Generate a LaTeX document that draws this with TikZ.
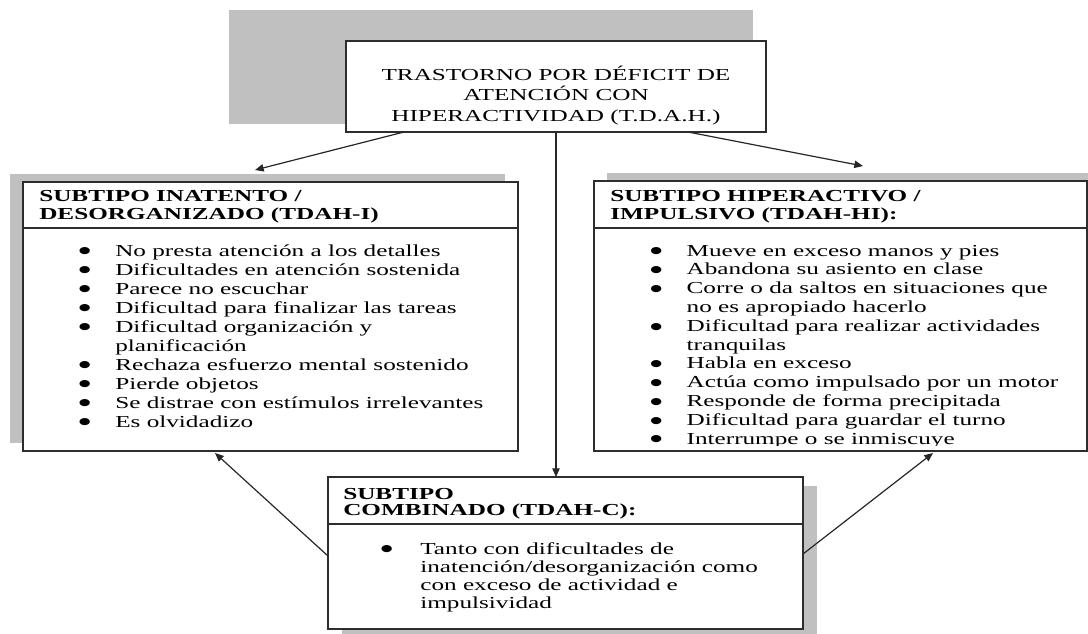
\documentclass[tikz,border=0pt]{standalone}
\usepackage{fontspec}
\setmainfont[FakeStretch=1.5]{Liberation Serif}
\newfontfamily\bulfont[FakeStretch=1.45]{DejaVu Sans}
\usetikzlibrary{arrows.meta,calc}
\definecolor{shadowgray}{RGB}{192,192,192}
\definecolor{edge}{RGB}{45,45,45}
\newcommand{\bigbul}{\raisebox{1.55pt}{\bulfont\fontsize{7pt}{8pt}\selectfont ●}}
\newcommand{\bitem}[1]{\makebox[27.3pt][l]{\bigbul}#1}
\newcommand{\bcont}[1]{\hspace*{27.3pt}#1}
\newcommand{\citem}[1]{\makebox[29.6pt][l]{\bigbul}#1}
\newcommand{\ccont}[1]{\hspace*{29.6pt}#1}
\begin{document}
\begin{tikzpicture}[x=0.75pt,y=-0.75pt,
  boxst/.style={draw=edge,line width=1.2pt,fill=white,inner sep=0pt,outer sep=0pt,anchor=north west},
  sepline/.style={draw=edge,line width=0.9pt},
  shadowbox/.style={fill=shadowgray},
  txt/.style={inner sep=0pt,anchor=base west},
  arr/.style={draw=black!85,line width=0.9pt,-{Triangle[length=6.5pt,width=5.5pt]}}]
\useasboundingbox (0,0) rectangle (1088,633);
\clip (0,0) rectangle (1088,633);
% shadows
\path[shadowbox] (229,10) rectangle (753,124);
\path[shadowbox] (10,174) rectangle (505,443);
\path[shadowbox] (607,173) rectangle (1100,443);
\path[shadowbox] (342,486) rectangle (817,640);
% boxes
\node[boxst,minimum width=315pt,minimum height=68.25pt] (top) at (346,41) {};
\node[boxst,minimum width=371.25pt,minimum height=201.75pt] (lbox) at (23,182) {};
\node[boxst,minimum width=369.75pt,minimum height=202.5pt] (rbox) at (594,181) {};
\node[boxst,minimum width=356.25pt,minimum height=114pt] (cbox) at (328,477) {};
\draw[sepline] ($(lbox.north west)+(0,46)$) -- ($(lbox.north east)+(0,46)$);
\draw[sepline] ($(rbox.north west)+(0,47)$) -- ($(rbox.north east)+(0,47)$);
\draw[sepline] ($(cbox.north west)+(0,47)$) -- ($(cbox.north east)+(0,47)$);
% texts
\node[txt,anchor=base,font=\fontsize{12.6pt}{15.4pt}\selectfont] (ttl) at (556,80)
  {\begin{tabular}[t]{@{}c@{}}TRASTORNO POR DÉFICIT DE\\ATENCIÓN CON\\HIPERACTIVIDAD (T.D.A.H.)\end{tabular}};
\node[txt,font=\bfseries\fontsize{12.6pt}{13.7pt}\selectfont] (lhead) at (39,201.7)
  {\begin{tabular}[t]{@{}l@{}}SUBTIPO INATENTO /\\DESORGANIZADO (TDAH-I)\end{tabular}};
\node[txt,font=\fontsize{12.6pt}{14.25pt}\selectfont] (llist) at (78.6,256)
  {\begin{tabular}[t]{@{}l@{}}
  \bitem{No presta atención a los detalles}\\
  \bitem{Dificultades en atención sostenida}\\
  \bitem{Parece no escuchar}\\
  \bitem{Dificultad para finalizar las tareas}\\
  \bitem{Dificultad organización y}\\
  \bcont{planificación}\\
  \bitem{Rechaza esfuerzo mental sostenido}\\
  \bitem{Pierde objetos}\\
  \bitem{Se distrae con estímulos irrelevantes}\\
  \bitem{Es olvidadizo}
  \end{tabular}};
\node[txt,font=\bfseries\fontsize{12.6pt}{13.7pt}\selectfont] (rhead) at (610,201.7)
  {\begin{tabular}[t]{@{}l@{}}SUBTIPO HIPERACTIVO /\\IMPULSIVO (TDAH-HI):\end{tabular}};
\begin{scope}
\clip (594,181) rectangle (1087,445);
\node[txt,font=\fontsize{12.6pt}{14.1pt}\selectfont] (rlist) at (650,256)
  {\begin{tabular}[t]{@{}l@{}}
  \bitem{Mueve en exceso manos y pies}\\
  \bitem{Abandona su asiento en clase}\\
  \bitem{Corre o da saltos en situaciones que}\\
  \bcont{no es apropiado hacerlo}\\
  \bitem{Dificultad para realizar actividades}\\
  \bcont{tranquilas}\\
  \bitem{Habla en exceso}\\
  \bitem{Actúa como impulsado por un motor}\\
  \bitem{Responde de forma precipitada}\\
  \bitem{Dificultad para guardar el turno}\\
  \bitem{Interrumpe o se inmiscuye}
  \end{tabular}};
\end{scope}
\node[txt,font=\bfseries\fontsize{12.6pt}{12.5pt}\selectfont] (chead) at (343,499)
  {\begin{tabular}[t]{@{}l@{}}SUBTIPO\\COMBINADO (TDAH-C):\end{tabular}};
\node[txt,font=\fontsize{12.6pt}{13.6pt}\selectfont] (clist) at (380.6,554)
  {\begin{tabular}[t]{@{}l@{}}
  \citem{Tanto con dificultades de}\\
  \ccont{inatención/desorganización como}\\
  \ccont{con exceso de actividad e}\\
  \ccont{impulsividad}
  \end{tabular}};
% connectors
\draw[arr] ($(top.south west)+(58,0)$) -- ($(lbox.north west)+(232,-12)$);
\draw[arr] ($(top.south east)+(-78,0)$) -- ($(rbox.north west)+(269,-15)$);
\draw[arr] (top.south) -- (top.south |- cbox.north);
\draw[arr] ($(cbox.north west)+(0,79)$) -- ($(lbox.south west)+(192,2)$);
\draw[arr] ($(cbox.north east)+(0,77)$) -- ($(rbox.south west)+(339,2)$);
\end{tikzpicture}
\end{document}
